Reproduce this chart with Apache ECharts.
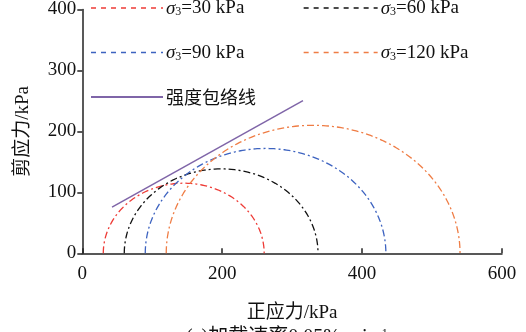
<!DOCTYPE html>
<html>
<head>
<meta charset="utf-8">
<script src="https://cdn.jsdelivr.net/npm/echarts@6/dist/echarts.min.js"></script>
<style>
  html, body { margin: 0; padding: 0; background: #fff; }
  #chart { width: 526px; height: 332px; }
</style>
</head>
<body>
<div id="chart"></div>
<script>
// Confining pressures σ3 and major principal stresses σ1 at failure (kPa)
const confining = [30, 60, 90, 120];
const majorStress = [260, 337, 434, 540];
const seriesNames = ['σ3=30 kPa', 'σ3=60 kPa', 'σ3=90 kPa', 'σ3=120 kPa'];
const circleColors = ['#ee3b36', '#111111', '#3d63c0', '#ef7d45'];

// Strength envelope endpoints [σ, τ] (kPa)
const envelopeName = '强度包络线';
const envelopeX = [42.5, 315.5];
const envelopeY = [75.7, 250.6];

// Axis ticks
const xTicks = [0, 200, 400, 600];
const yTicks = [0, 100, 200, 300, 400];

const serif = '"Liberation Serif", "Times New Roman", "Noto Sans CJK SC", serif';

// Upper half of a Mohr circle traced from σ3 to σ1
function mohrHalf(s3, s1) {
  const c = (s1 + s3) / 2, r = (s1 - s3) / 2;
  const pts = [];
  const n = 180;
  for (let k = 0; k <= n; k++) {
    const a = Math.PI - Math.PI * k / n;
    pts.push([c + r * Math.cos(a), r * Math.sin(a)]);
  }
  return pts;
}

const series = confining.map((s3, i) => ({
  name: seriesNames[i],
  type: 'line',
  data: mohrHalf(s3, majorStress[i]),
  showSymbol: false,
  symbol: 'none',
  smooth: false,
  silent: true,
  lineStyle: { color: circleColors[i], width: 1.3, type: [7, 3, 2, 3] },
  itemStyle: { color: circleColors[i] }
}));

series.push({
  name: envelopeName,
  type: 'line',
  data: envelopeX.map((x, i) => [x, envelopeY[i]]),
  showSymbol: false,
  symbol: 'none',
  silent: true,
  lineStyle: { color: '#7f65a8', width: 1.5 },
  itemStyle: { color: '#7f65a8' }
});

const legendRich = {
  i: { fontFamily: serif, fontStyle: 'italic', fontSize: 19, color: '#111', lineHeight: 20, verticalAlign: 'bottom' },
  s: { fontFamily: serif, fontSize: 12, color: '#111', lineHeight: 8, verticalAlign: 'bottom' },
  n: { fontFamily: serif, fontSize: 19, color: '#111', lineHeight: 20, verticalAlign: 'bottom' },
  c: { fontFamily: '"Noto Sans CJK SC", sans-serif', fontSize: 18, color: '#111', lineHeight: 20 }
};

function legendFormatter(name) {
  if (name.indexOf('σ3') === 0) {
    return '{i|σ}{s|3}{n|' + name.slice(2) + '}';
  }
  return '{c|' + name + '}';
}

function legendItem(name, i) {
  if (i === undefined) return { name: name };
  return { name: name, lineStyle: { type: [5, 5], width: 1.3 } };
}

const baseLegend = {
  orient: 'vertical',
  itemHeight: 16,
  itemGap: 25.5,
  selectedMode: false,
  formatter: legendFormatter,
  itemStyle: { opacity: 0 },
  textStyle: { rich: legendRich, padding: [0, 0, 0, -2] }
};

const option = {
  backgroundColor: '#fff',
  animation: false,
  grid: { left: 82.3, right: 24, top: 3.3, bottom: 78.7 },
  legend: [
    Object.assign({}, baseLegend, {
      left: 85, top: -6, itemWidth: 72,
      data: [legendItem(seriesNames[0], 0), legendItem(seriesNames[2], 2), legendItem(envelopeName)]
    }),
    Object.assign({}, baseLegend, {
      left: 298, top: -6, itemWidth: 74,
      data: [legendItem(seriesNames[1], 1), legendItem(seriesNames[3], 3)]
    })
  ],
  xAxis: {
    type: 'value',
    min: xTicks[0],
    max: xTicks[xTicks.length - 1],
    interval: xTicks[1] - xTicks[0],
    name: '正应力/kPa',
    nameLocation: 'middle',
    nameGap: 50,
    nameTextStyle: { fontFamily: serif, fontSize: 19, color: '#111' },
    axisLine: { lineStyle: { color: '#222', width: 1.5 } },
    axisTick: { inside: true, length: 5, lineStyle: { color: '#222', width: 1.5 } },
    axisLabel: { fontFamily: serif, fontSize: 19, color: '#111', margin: 11 },
    splitLine: { show: false }
  },
  yAxis: {
    type: 'value',
    min: yTicks[0],
    max: yTicks[yTicks.length - 1],
    interval: yTicks[1] - yTicks[0],
    name: '剪应力/kPa',
    nameLocation: 'middle',
    nameGap: 50,
    nameTextStyle: { fontFamily: serif, fontSize: 19, color: '#111' },
    axisLine: { show: true, lineStyle: { color: '#222', width: 1.5 } },
    axisTick: { show: true, inside: false, length: 5, lineStyle: { color: '#222', width: 1.5 } },
    axisLabel: { fontFamily: serif, fontSize: 19, color: '#111', margin: 6 },
    splitLine: { show: false }
  },
  graphic: [{
    type: 'text',
    left: 186,
    top: 328,
    style: {
      text: '(a)加载速率0.05%·min{sup|-1}',
      font: '20px ' + serif,
      fill: '#111',
      rich: {
        sup: { fontFamily: serif, fontSize: 12, verticalAlign: 'top', lineHeight: 8, fill: '#111' }
      }
    }
  }],
  series: series
};

const chart = echarts.init(document.getElementById('chart'), null, { renderer: 'canvas' });
chart.setOption(option);
</script>
</body>
</html>
